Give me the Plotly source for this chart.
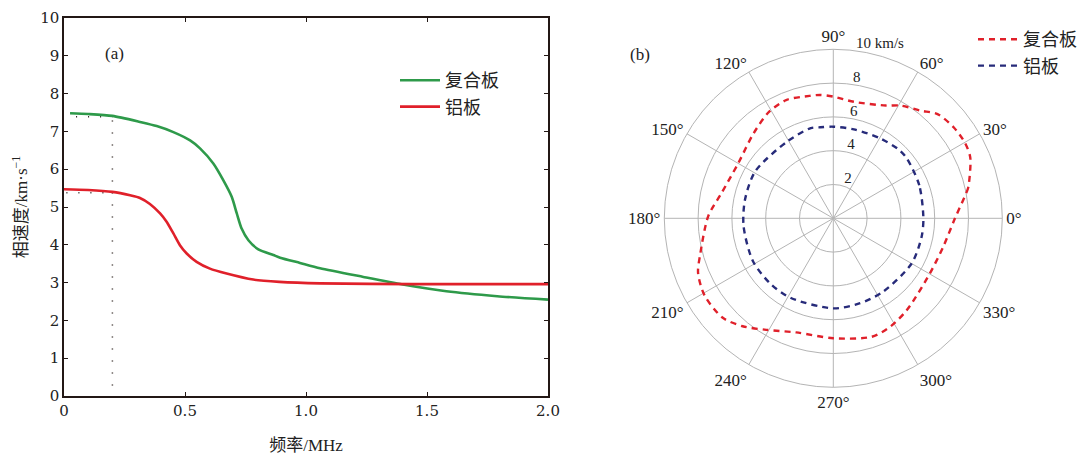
import plotly.graph_objects as go

# ---------------- data: panel (a) ----------------
freq_composite = [0.025, 0.1, 0.2, 0.314, 0.383, 0.452, 0.521, 0.562, 0.617, 0.658, 0.693,
                  0.714, 0.734, 0.762, 0.803, 0.865, 0.893, 0.975, 1.058,
                  1.237, 1.4, 1.58, 1.79, 2.0]
vel_composite = [7.48, 7.46, 7.41, 7.25, 7.14, 6.98, 6.76, 6.55, 6.15, 5.71, 5.27,
                 4.83, 4.43, 4.12, 3.88, 3.73, 3.66, 3.52, 3.38,
                 3.15, 2.95, 2.77, 2.64, 2.55]
freq_al = [0.0, 0.1, 0.2, 0.273, 0.314, 0.355, 0.397, 0.424, 0.452, 0.479, 0.507,
           0.548, 0.603, 0.672, 0.782, 0.89, 1.058, 1.44, 2.0]
vel_al = [5.47, 5.45, 5.40, 5.31, 5.24, 5.08, 4.83, 4.61, 4.30, 3.99, 3.77,
          3.55, 3.37, 3.24, 3.08, 3.02, 2.98, 2.96, 2.96]

guide_freq = 0.2
guide_v_composite = 7.39
guide_v_al = 5.375
guide_start_composite = 0.05
guide_start_al = 0.01
guide_bottom = 0.28

x_tickvals = [0, 0.5, 1.0, 1.5, 2.0]
x_ticktext = ["0", "0.5", "1.0", "1.5", "2.0"]
y_tickvals = [0, 1, 2, 3, 4, 5, 6, 7, 8, 9, 10]

# ---------------- data: panel (b) ----------------
theta_composite = [0, 11, 13, 24, 30, 37, 45, 51, 59, 65, 80, 90, 96, 101, 111.5, 121,
                   133, 150, 167, 179, 195, 202, 211, 222, 230, 239, 252, 270,
                   288, 298, 309, 330, 345.5, 360]
r_composite = [7.2, 8.03, 8.2, 8.87, 8.98, 8.93, 8.72, 8.2, 7.78, 7.36, 7.0, 7.2, 7.34, 7.38, 7.53, 7.36,
               6.9, 6.5, 6.77, 7.4, 8.15, 8.63, 8.88, 8.8, 8.34, 7.7, 7.1, 7.1,
               7.37, 7.24, 6.95, 6.58, 6.72, 7.2]
theta_al = [0, 21, 39, 46, 60, 77, 90, 98, 104, 121, 149, 168, 185, 208, 226, 242,
            270, 287, 304, 330, 348, 360]
r_al = [5.33, 5.45, 5.61, 5.62, 5.48, 5.4, 5.42, 5.44, 5.5, 5.3, 5.39, 5.34, 5.33, 5.39, 5.37, 5.34,
        5.33, 5.27, 5.25, 5.35, 5.34, 5.33]

r_tickvals = [2, 4, 6, 8, 10]
r_ticktext = ["2", "4", "6", "8", "10 km/s"]

# ---------------- styles ----------------
GREEN = "#2e9a4a"
RED = "#e0202a"
NAVY = "#272b7a"
AXIS = "#231815"
GRID = "#b4b4b4"
SERIF = "DejaVu Serif, Liberation Serif, serif"
SERIF2 = "Liberation Serif, DejaVu Serif, serif"
CJK = "Liberation Serif, Noto Sans CJK SC, sans-serif"

fig = go.Figure()

# guide dotted lines
dot = dict(color=AXIS, width=1.5, dash="1px,11px")
fig.add_trace(go.Scatter(x=[guide_freq, guide_freq], y=[guide_bottom, guide_v_composite],
                         mode="lines", line=dot, showlegend=False, hoverinfo="skip"))
fig.add_trace(go.Scatter(x=[guide_start_composite, guide_freq], y=[guide_v_composite, guide_v_composite],
                         mode="lines", line=dot, showlegend=False, hoverinfo="skip"))
fig.add_trace(go.Scatter(x=[guide_start_al, guide_freq], y=[guide_v_al, guide_v_al],
                         mode="lines", line=dot, showlegend=False, hoverinfo="skip"))

fig.add_trace(go.Scatter(x=freq_composite, y=vel_composite, mode="lines", name="复合板",
                         line=dict(color=GREEN, width=2.6, shape="spline", smoothing=0.7),
                         legend="legend"))
fig.add_trace(go.Scatter(x=freq_al, y=vel_al, mode="lines", name="铝板",
                         line=dict(color=RED, width=2.6, shape="spline", smoothing=0.7),
                         legend="legend"))

fig.add_trace(go.Scatterpolar(theta=theta_composite, r=r_composite, mode="lines", name="复合板",
                              line=dict(color=RED, width=2.4, dash="6px,5px", shape="spline", smoothing=0.8),
                              legend="legend2", subplot="polar"))
fig.add_trace(go.Scatterpolar(theta=theta_al, r=r_al, mode="lines", name="铝板",
                              line=dict(color=NAVY, width=2.4, dash="6px,5px", shape="spline", smoothing=0.8),
                              legend="legend2", subplot="polar"))

W, H = 1086, 457
fig.update_layout(
    width=W, height=H,
    margin=dict(l=0, r=0, t=0, b=0, autoexpand=False),
    paper_bgcolor="white", plot_bgcolor="white",
    xaxis=dict(domain=[64 / W, 548 / W], range=[0, 2.0], tickvals=x_tickvals, ticktext=x_ticktext,
               ticks="inside", ticklen=4, tickcolor=AXIS, tickwidth=1.2,
               showline=True, linecolor=AXIS, linewidth=1.5, mirror="allticks",
               showgrid=False, zeroline=False, automargin=False,
               tickfont=dict(family=SERIF, size=15, color="#222"),
               title=dict(text="频率/MHz", font=dict(family=CJK, size=17, color="#222"), standoff=20)),
    yaxis=dict(domain=[1 - 396 / H, 1 - 18 / H], range=[0, 10], tickvals=y_tickvals,
               ticks="inside", ticklen=4, tickcolor=AXIS, tickwidth=1.2,
               showline=True, linecolor=AXIS, linewidth=1.5, mirror="allticks",
               showgrid=False, zeroline=False, automargin=False,
               tickfont=dict(family=SERIF, size=15, color="#222"),
               title=dict(text="相速度/km·s<sup>−1</sup>", font=dict(family=CJK, size=17, color="#222"), standoff=8)),
    polar=dict(
        domain=dict(x=[(833.3 - 169) / W, (833.3 + 169) / W], y=[1 - 387.3 / H, 1 - 49.3 / H]),
        bgcolor="white",
        radialaxis=dict(range=[0, 10], tickvals=r_tickvals,
                        ticktext=[t + "<br> " for t in r_ticktext], angle=85,
                        side="clockwise", showline=False, gridcolor=GRID, gridwidth=1, ticks="",
                        tickangle=85, tickfont=dict(family=SERIF2, size=15, color="#222")),
        angularaxis=dict(direction="counterclockwise", rotation=0, dtick=30, ticksuffix="°",
                         showline=True, linecolor=GRID, linewidth=1, gridcolor=GRID, gridwidth=1,
                         ticks="", tickfont=dict(family=SERIF2, size=17, color="#222")),
    ),
    legend=dict(x=395 / W, y=1 - 62 / H, xanchor="left", yanchor="top",
                bgcolor="rgba(0,0,0,0)", font=dict(family=CJK, size=18, color="#222"),
                itemwidth=40, tracegroupgap=0),
    legend2=dict(x=973 / W, y=1 - 21 / H, xanchor="left", yanchor="top",
                 bgcolor="rgba(0,0,0,0)", font=dict(family=CJK, size=18, color="#222"),
                 itemwidth=40, tracegroupgap=0),
    annotations=[
        dict(text="(a)", x=103 / W, y=1 - 42 / H, xref="paper", yref="paper", showarrow=False,
             font=dict(family=SERIF2, size=17, color="#222")),
        dict(text="(b)", x=640 / W, y=1 - 43 / H, xref="paper", yref="paper", showarrow=False,
             font=dict(family=SERIF2, size=17, color="#222")),
    ],
)

fig.write_html("out.html", post_script="document.body.style.margin='0';",
               config={"displayModeBar": False})
